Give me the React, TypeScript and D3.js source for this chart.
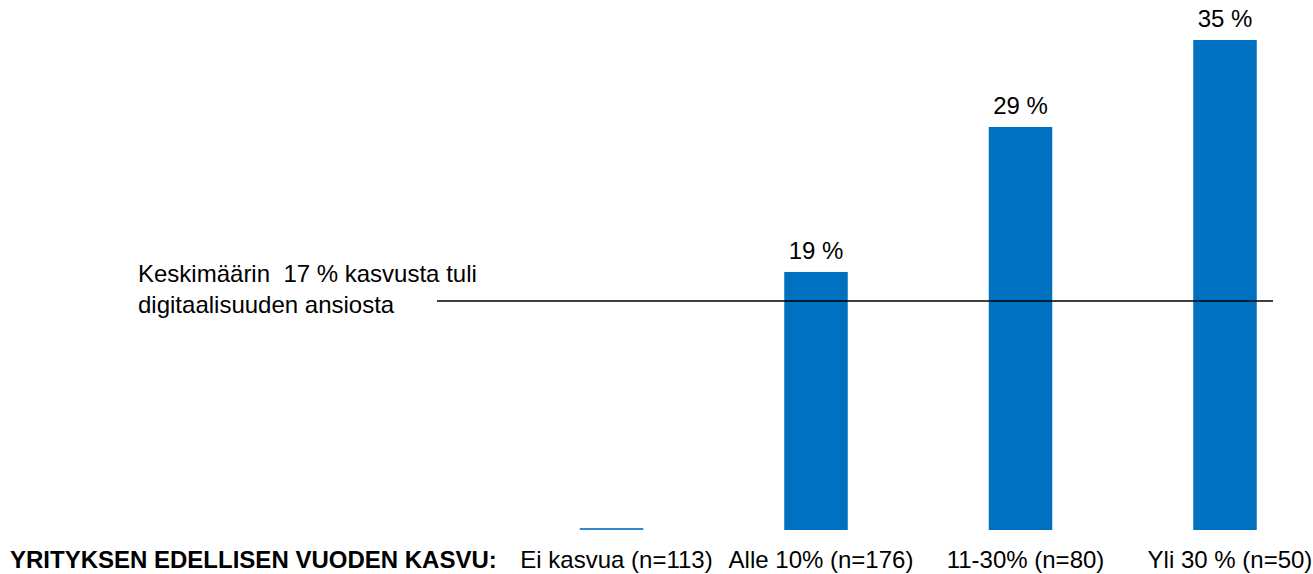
import React, { useEffect, useRef } from 'react';
import * as d3 from 'd3';

const categories = ['Ei kasvua (n=113)', 'Alle 10% (n=176)', '11-30% (n=80)', 'Yli 30 % (n=50)'];
const values = [0, 19, 29, 35];
const valueLabels = ['', '19 %', '29 %', '35 %'];
const averageValue = 17;
const averageText = ['Keskimäärin  17 % kasvusta tuli', 'digitaalisuuden ansiosta'];
const axisTitle = 'YRITYKSEN EDELLISEN VUODEN KASVU:';

const App = () => {
    const svgRef = useRef<SVGSVGElement | null>(null);

    useEffect(() => {
        document.body.style.margin = '0';
        if (!svgRef.current) return;

        const width = 1313;
        const height = 574;
        const barWidth = 63.5;
        const font = '"Liberation Sans", Arial, sans-serif';
        const fontSize = '24px';

        const svg = d3.select(svgRef.current);
        svg.selectAll('*').remove();
        svg.attr('width', width).attr('height', height);

        const x = d3.scalePoint<string>()
            .domain(categories)
            .range([611.5, 1225]);

        // axis bottom sits a bit above zero on the value scale
        const y = d3.scaleLinear()
            .domain([1.2, 35])
            .range([530, 40]);

        const baseline = y(1.2);

        const data = categories.map((c, i) => ({ cat: c, value: values[i], label: valueLabels[i] }));

        // bars
        svg.append('g')
            .selectAll('rect')
            .data(data.filter(d => d.value > 0))
            .enter()
            .append('rect')
            .attr('x', d => (x(d.cat) as number) - barWidth / 2)
            .attr('y', d => y(d.value))
            .attr('width', barWidth)
            .attr('height', d => baseline - y(d.value))
            .attr('fill', '#0070C0');

        // zero-value bar drawn as a thin line
        svg.append('g')
            .selectAll('line')
            .data(data.filter(d => d.value === 0))
            .enter()
            .append('line')
            .attr('x1', d => (x(d.cat) as number) - barWidth / 2)
            .attr('x2', d => (x(d.cat) as number) + barWidth / 2)
            .attr('y1', baseline - 1)
            .attr('y2', baseline - 1)
            .attr('stroke', '#2F88D4')
            .attr('stroke-width', 2);

        // value labels
        svg.append('g')
            .selectAll('text')
            .data(data.filter(d => d.label))
            .enter()
            .append('text')
            .attr('x', d => x(d.cat) as number)
            .attr('y', d => y(d.value) - 13)
            .attr('text-anchor', 'middle')
            .style('font-family', font)
            .style('font-size', fontSize)
            .attr('fill', '#000')
            .text(d => d.label);

        // average line
        svg.append('line')
            .attr('x1', 437)
            .attr('x2', 1273)
            .attr('y1', y(averageValue))
            .attr('y2', y(averageValue))
            .attr('stroke', '#000')
            .attr('stroke-width', 1.5);

        const note = svg.append('text')
            .style('font-family', font)
            .style('font-size', fontSize)
            .style('white-space', 'pre')
            .attr('fill', '#000');
        averageText.forEach((t, i) => {
            note.append('tspan')
                .attr('x', 138)
                .attr('y', 282 + i * 31)
                .text(t);
        });

        // category labels
        svg.append('g')
            .selectAll('text')
            .data(categories)
            .enter()
            .append('text')
            .attr('x', d => (x(d) as number) + 5)
            .attr('y', 568)
            .attr('text-anchor', 'middle')
            .style('font-family', font)
            .style('font-size', fontSize)
            .attr('fill', '#000')
            .text(d => d);

        svg.append('text')
            .attr('x', 10)
            .attr('y', 568)
            .style('font-family', font)
            .style('font-size', fontSize)
            .style('font-weight', 'bold')
            .attr('fill', '#000')
            .text(axisTitle);
    }, []);

    return (
        <div style={{ width: 1313, height: 574, background: '#fff' }}>
            <svg ref={svgRef} style={{ display: 'block' }}></svg>
        </div>
    );
};

export default App;
